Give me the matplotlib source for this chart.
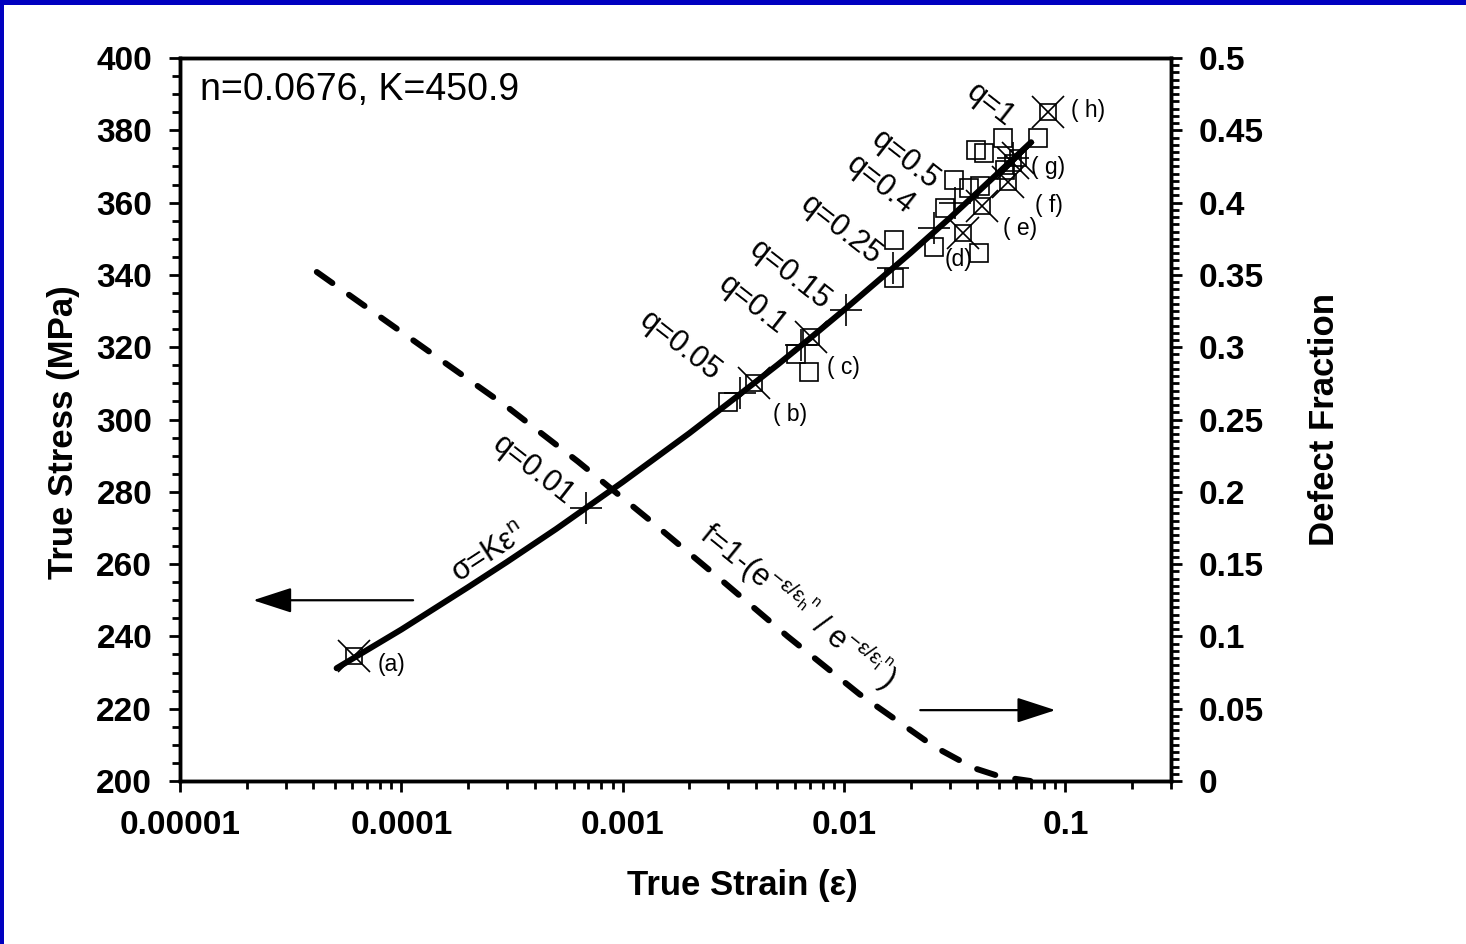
import matplotlib
matplotlib.use('Agg')
import matplotlib.pyplot as plt
from matplotlib.ticker import MultipleLocator, LogLocator, NullFormatter
from matplotlib.patches import Rectangle

plt.rcParams['font.family'] = ['Liberation Sans', 'DejaVu Sans']
plt.rcParams['mathtext.fontset'] = 'custom'
plt.rcParams['mathtext.rm'] = 'Liberation Sans'
plt.rcParams['mathtext.it'] = 'Liberation Sans'
plt.rcParams['mathtext.bf'] = 'Liberation Sans:bold'

# power law fit (sigma = K eps^n)
fit_strain = [5.1e-5, 1e-4, 2e-4, 3e-4, 5e-4, 1e-3, 2e-3, 3e-3, 5e-3, 7e-3,
              1e-2, 2e-2, 3e-2, 4e-2, 7.0e-2]
fit_stress = [231.2, 241.9, 253.6, 260.6, 269.7, 282.7, 296.2, 304.5, 315.1, 322.4,
              330.3, 346.1, 355.7, 362.8, 376.7]

# defect fraction curve (right axis)
defect_strain = [4.15e-5, 2.99e-4, 6.27e-4, 1.31e-3, 2.74e-3, 5.56e-3, 1.175e-2,
                 2.54e-2, 3.85e-2, 5.09e-2, 6.95e-2]
defect_frac = [0.352, 0.259, 0.221, 0.181, 0.140, 0.100, 0.060, 0.024, 0.009, 0.003, 0.0]

# labelled states (a)-(h), crossed squares
point_labels = ['(a)', '( b)', '( c)', '(d)', '( e)', '( f)', '( g)', '( h)']
point_strain = [6.1e-5, 3.9e-3, 7.06e-3, 0.0343, 0.0422, 0.0553, 0.0613, 0.0837]
point_stress = [234.6, 310.1, 322.8, 351.6, 359.1, 365.7, 372.3, 385.1]
extra_cross_strain = [0.0582]
extra_cross_stress = [371.0]

# q markers (+)
q_labels = ['q=0.01', 'q=0.05', 'q=0.1', 'q=0.15', 'q=0.25', 'q=0.4', 'q=0.5', 'q=1']
q_strain = [6.8e-4, 3.4e-3, 6.4e-3, 1.016e-2, 1.67e-2, 2.54e-2, 3.18e-2, 5.77e-2]
q_stress = [275.5, 307.3, 320.6, 330.3, 341.9, 353.0, 359.9, 372.3]

# open squares (measurements)
sq_strain = [2.98e-3, 6.04e-3, 6.98e-3, 0.0169, 0.0169, 0.0256, 0.0287, 0.0409,
             0.052, 0.0755, 0.0393, 0.0427, 0.0315, 0.0365, 0.0413, 0.0536]
sq_stress = [304.8, 318.1, 313.1, 349.7, 339.1, 347.7, 358.5, 346.1,
             377.9, 377.9, 374.6, 373.7, 366.3, 364.0, 364.6, 369.0]

x_ticks = [1e-5, 1e-4, 1e-3, 1e-2, 1e-1]
x_ticklabels = ['0.00001', '0.0001', '0.001', '0.01', '0.1']
y2_ticks = [0, 0.05, 0.1, 0.15, 0.2, 0.25, 0.3, 0.35, 0.4, 0.45, 0.5]
y2_ticklabels = ['0', '0.05', '0.1', '0.15', '0.2', '0.25', '0.3', '0.35', '0.4', '0.45', '0.5']

W, H = 1466, 944
fig = plt.figure(figsize=(W / 100, H / 100), dpi=100)
fig.patch.set_facecolor('white')
ax = fig.add_axes([180 / W, 1 - 781 / H, (1171 - 180) / W, (781 - 58) / H])
ax2 = ax.twinx()

ax.set_xscale('log')
ax.set_xlim(1e-5, 0.3)
ax.set_ylim(200, 400)
ax2.set_ylim(0, 0.5)

# curves
ax.plot(fit_strain, fit_stress, color='black', lw=4.3, solid_capstyle='round', zorder=3)
ax2.plot(defect_strain, defect_frac, color='black', lw=4.3, dashes=(3.2, 3.4),
         dash_capstyle='round', zorder=3)

# markers
ax.plot(sq_strain, sq_stress, ls='none', marker='s', ms=12.5, mfc='none', mec='black',
        mew=1.2, zorder=4)
ax.plot(q_strain, q_stress, ls='none', marker='+', ms=23, mec='black', mew=1.2, zorder=4)
cross_x = point_strain + extra_cross_strain
cross_y = point_stress + extra_cross_stress
ax.plot(cross_x, cross_y, ls='none', marker='s', ms=11.5, mfc='none', mec='black',
        mew=1.2, zorder=4)
ax.plot(cross_x, cross_y, ls='none', marker='x', ms=23, mec='black', mew=1.2, zorder=4)

# point labels
label_offsets = [(17, -6), (14, -23), (12, -22), (-13, -19), (15, -16), (19, -17),
                 (9, -7), (16, 1)]
for lab, xv, yv, off in zip(point_labels, point_strain, point_stress, label_offsets):
    ax.annotate(lab, (xv, yv), xytext=off, textcoords='offset points',
                ha='left', va='center', fontsize=16.5)

q_offsets = [(-38, 27), (-43, 34), (-35, 29), (-40, 25), (-38, 27), (-38, 31),
             (-36, 31), (-16, 38)]
for lab, xv, yv, off in zip(q_labels, q_strain, q_stress, q_offsets):
    ax.annotate(lab, (xv, yv), xytext=off, textcoords='offset points',
                ha='center', va='center', fontsize=22, rotation=-38,
                rotation_mode='anchor')

# equation labels
fig.text(490 / W, 1 - 554 / H, 'σ=Kε$^{n}$', fontsize=22, rotation=33,
         ha='center', va='center', rotation_mode='anchor')
fig.text(798 / W, 1 - 606 / H,
         r'f=1-(e$^{-\varepsilon/{\varepsilon_h}^{n}}$ / e$^{-\varepsilon/{\varepsilon_i}^{n}}$)',
         fontsize=22, rotation=-39, ha='center', va='center', rotation_mode='anchor')
fig.text(200 / W, 1 - 90 / H, 'n=0.0676, K=450.9', fontsize=27, ha='left', va='center')

# arrows
arrow_style = dict(arrowstyle='-|>,head_length=0.4,head_width=0.13', color='black',
                   lw=1.6, mutation_scale=60, shrinkA=0, shrinkB=0)
ax.annotate('', xy=(2.14e-5, 250), xytext=(1.13e-4, 250), arrowprops=arrow_style)
ax2.annotate('', xy=(0.0902, 0.049), xytext=(0.0221, 0.049), arrowprops=arrow_style)

# ticks
ax.set_xticks(x_ticks)
ax.set_xticklabels(x_ticklabels)
ax.xaxis.set_minor_locator(LogLocator(base=10, subs=range(2, 10), numticks=20))
ax.xaxis.set_minor_formatter(NullFormatter())
ax.set_yticks(range(200, 401, 20))
ax.yaxis.set_minor_locator(MultipleLocator(5))
ax2.set_yticks(y2_ticks)
ax2.set_yticklabels(y2_ticklabels)
ax2.yaxis.set_minor_locator(MultipleLocator(0.005))

for a in (ax, ax2):
    a.tick_params(which='major', direction='out', length=8, width=2, labelsize=24, pad=12)
    a.tick_params(which='minor', direction='out', length=5.5, width=2)
    for sp in a.spines.values():
        sp.set_linewidth(2.5)
    for lbl in a.get_xticklabels() + a.get_yticklabels():
        lbl.set_fontweight('bold')
ax.tick_params(axis='x', pad=13)

fig.text(742 / W, 1 - 885 / H, 'True Strain (ε)', fontsize=25, fontweight='bold',
         ha='center', va='center')
fig.text(63 / W, 1 - 432 / H, 'True Stress (MPa)', fontsize=25, fontweight='bold',
         ha='center', va='center', rotation=90)
fig.text(1325 / W, 1 - 420 / H, 'Defect Fraction', fontsize=25, fontweight='bold',
         ha='center', va='center', rotation=90)

# slide frame
fig.add_artist(Rectangle((0, 1 - 5 / H), 1, 5 / H, transform=fig.transFigure,
                         color='#0000C0', lw=0))
fig.add_artist(Rectangle((0, 0), 4 / W, 1, transform=fig.transFigure,
                         color='#0000C0', lw=0))

fig.savefig('out.png', dpi=100)
